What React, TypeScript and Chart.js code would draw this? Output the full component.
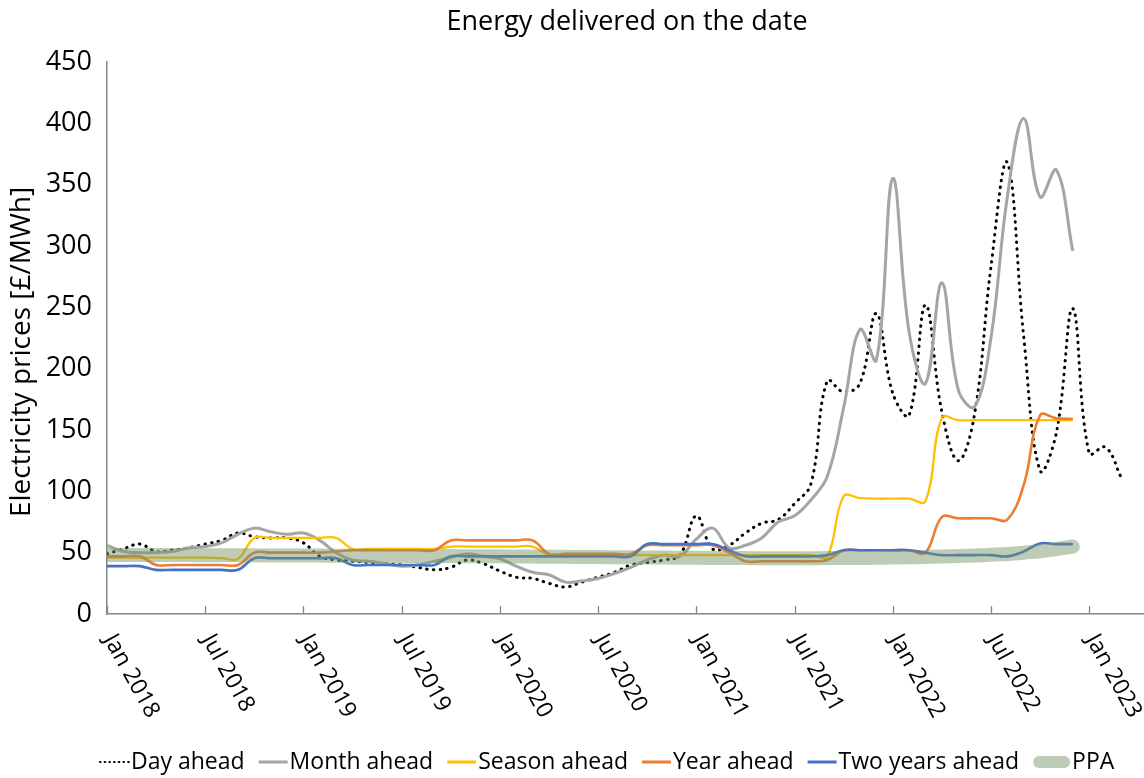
import React, { useEffect, useRef } from "react";
import { Chart, registerables } from "chart.js";

Chart.register(...registerables);

const FONT = "'Open Sans', 'DejaVu Sans', sans-serif";
const TITLE = "Energy delivered on the date";
const Y_TITLE = "Electricity prices [£/MWh]";

const SERIES_NAMES = ["Day ahead", "Month ahead", "Season ahead", "Year ahead", "Two years ahead", "PPA"];

// x positions: months since Jan 2018
const TICK_MONTHS = [0, 6, 12, 18, 24, 30, 36, 42, 48, 54, 60];
const TICK_LABELS = ["Jan 2018", "Jul 2018", "Jan 2019", "Jul 2019", "Jan 2020", "Jul 2020", "Jan 2021", "Jul 2021", "Jan 2022", "Jul 2022", "Jan 2023"];

const DAY_AHEAD = [
  49, 53, 57, 51, 52, 54, 57, 60, 66, 63, 62, 62,
  58, 47, 44, 43, 42, 41, 40, 38, 36, 38, 44, 41,
  35, 30, 29, 25, 22, 26, 30, 34, 40, 42, 44, 48,
  80, 53, 56, 66, 74, 77, 90, 106, 190, 181, 188, 245,
  180, 162, 252, 165, 125, 163, 283, 368, 226, 117, 148, 249,
  131, 136, 110,
];

const MONTH_AHEAD = [
  56, 51, 50, 50, 51, 54, 55, 58, 65, 70, 67, 65,
  66, 60, 50, 44, 43, 41, 39, 40, 43, 46, 49, 47,
  45, 39, 34, 32, 26, 27, 29, 33, 38, 44, 48, 47,
  61, 70, 54, 56, 62, 75, 80, 93, 112, 168, 232, 207,
  355, 230, 188, 270, 183, 169, 225, 340, 404, 340, 362, 296,
];

const SEASON_AHEAD = [
  46, 46, 46, 46, 46, 46, 46, 45.5, 45, 62, 62, 62,
  62, 62, 62, 53, 53, 53, 53, 53, 53, 55, 55, 55,
  55, 55, 55, 48, 48, 48, 48, 48, 48, 48, 48, 48,
  48, 48, 48, 48, 48, 48, 48, 48, 47, 96, 94.5, 94,
  94, 94, 92, 160, 158, 158, 158, 158, 158, 158, 158, 158,
];

const YEAR_AHEAD = [
  47, 47, 47, 40, 40, 40, 40, 40, 40, 50, 50, 50,
  50, 50, 51, 52, 52, 52, 52, 52, 52, 60, 60, 60,
  60, 60, 60, 49, 49, 49, 49, 49, 49, 56, 56, 56,
  56, 56, 50, 43, 43, 43, 43, 43, 44, 52, 52, 52,
  52, 52, 50, 79, 78, 78, 78, 77, 105, 162, 159.5, 159,
];

const TWO_YEARS_AHEAD = [
  39, 39, 39, 36, 36, 36, 36, 36, 36, 45.5, 45.5, 45.5,
  45.5, 45.5, 45.5, 40, 40, 40, 40, 40, 40, 47, 47, 47,
  47, 47, 47, 47, 47, 47, 47, 47, 47, 57, 57, 57,
  57, 57, 52, 47, 47, 47, 47, 47, 48, 52, 52, 52,
  52, 52, 50, 48, 48, 48, 48, 47, 51, 57.5, 57, 57,
];

const PPA = [
  48, 48, 48, 48, 48, 48, 47.9, 47.9, 47.8, 47.8, 47.7, 47.7,
  47.6, 47.6, 47.5, 47.5, 47.4, 47.4, 47.3, 47.3, 47.2, 47.2, 47.1, 47.1,
  47, 46.9, 46.8, 46.7, 46.6, 46.5, 46.4, 46.3, 46.2, 46.1, 46, 45.9,
  45.8, 45.7, 45.6, 45.6, 45.5, 45.5, 45.5, 45.5, 45.6, 45.6, 45.7, 45.8,
  46, 46.2, 46.5, 46.8, 47.2, 47.7, 48.3, 49, 50, 51.2, 53, 55,
];

const COLORS = {
  day: "#000000",
  month: "#A5A5A5",
  season: "#FFC000",
  year: "#ED7D31",
  two: "#4472C4",
  ppa: "rgba(120,148,105,0.48)",
  axis: "#868686",
};

const toPoints = (arr: number[]) => arr.map((y, i) => ({ x: i, y }));

const overlayPlugin = {
  id: "overlay",
  afterDraw(chart: any) {
    const { ctx, chartArea, scales } = chart;
    const xs = scales.x;
    const bottom = chartArea.bottom;
    ctx.save();
    // inward tick marks
    ctx.strokeStyle = COLORS.axis;
    ctx.lineWidth = 1.3;
    TICK_MONTHS.forEach((m) => {
      const px = Math.round(xs.getPixelForValue(m)) + 0.5;
      ctx.beginPath();
      ctx.moveTo(px, bottom);
      ctx.lineTo(px, bottom - 8);
      ctx.stroke();
    });
    // rotated x labels
    ctx.fillStyle = "#000";
    ctx.font = `23px ${FONT}`;
    ctx.textAlign = "left";
    ctx.textBaseline = "middle";
    TICK_MONTHS.forEach((m, i) => {
      const px = xs.getPixelForValue(m);
      ctx.save();
      ctx.translate(px + 2, bottom + 22);
      ctx.rotate((61 * Math.PI) / 180);
      ctx.fillText(TICK_LABELS[i], 0, 0);
      ctx.restore();
    });
    // title
    ctx.textAlign = "center";
    ctx.font = `27px ${FONT}`;
    ctx.fillText(TITLE, 627, 22);
    // y title
    ctx.save();
    ctx.translate(22, 352);
    ctx.rotate(-Math.PI / 2);
    ctx.font = `28px ${FONT}`;
    ctx.fillText(Y_TITLE, 0, 0);
    ctx.restore();
    // legend
    ctx.font = `23px ${FONT}`;
    ctx.textAlign = "left";
    const ly = 762;
    let x = 100;
    const markerColors = [COLORS.day, COLORS.month, COLORS.season, COLORS.year, COLORS.two, COLORS.ppa];
    SERIES_NAMES.forEach((name, i) => {
      const mw = i === 5 ? 37 : 29;
      ctx.save();
      ctx.beginPath();
      if (i === 0) {
        ctx.setLineDash([0.5, 4.2]);
        ctx.lineCap = "round";
        ctx.lineWidth = 2.2;
      } else if (i === 5) {
        ctx.lineCap = "round";
        ctx.lineWidth = 12;
      } else {
        ctx.lineWidth = 3;
      }
      ctx.strokeStyle = markerColors[i];
      const inset = i === 5 ? 6 : 0;
      ctx.moveTo(x + inset, ly);
      ctx.lineTo(x + mw - inset, ly);
      ctx.stroke();
      ctx.restore();
      x += mw + 2;
      ctx.fillStyle = "#000";
      ctx.fillText(name, x, ly);
      x += ctx.measureText(name).width + 14;
    });
    ctx.restore();
  },
};

export default function App() {
  const ref = useRef<HTMLCanvasElement | null>(null);
  useEffect(() => {
    document.body.style.margin = "0";
    const canvas = ref.current;
    if (!canvas) return;
    const chart = new Chart(canvas, {
      type: "line",
      data: {
        datasets: [
          {
            label: SERIES_NAMES[0],
            data: toPoints(DAY_AHEAD),
            borderColor: COLORS.day,
            borderWidth: 3,
            borderDash: [0.5, 6.3],
            borderCapStyle: "round",
            order: 6,
          },
          {
            label: SERIES_NAMES[1],
            data: toPoints(MONTH_AHEAD),
            borderColor: COLORS.month,
            borderWidth: 3,
            order: 5,
          },
          {
            label: SERIES_NAMES[2],
            data: toPoints(SEASON_AHEAD),
            borderColor: COLORS.season,
            borderWidth: 2.3,
            order: 4,
          },
          {
            label: SERIES_NAMES[3],
            data: toPoints(YEAR_AHEAD),
            borderColor: COLORS.year,
            borderWidth: 2.6,
            order: 3,
          },
          {
            label: SERIES_NAMES[4],
            data: toPoints(TWO_YEARS_AHEAD),
            borderColor: COLORS.two,
            borderWidth: 2.6,
            order: 2,
          },
          {
            label: SERIES_NAMES[5],
            data: toPoints(PPA),
            borderColor: COLORS.ppa,
            borderWidth: 14,
            borderCapStyle: "round",
            order: 1,
          },
        ],
      },
      options: {
        responsive: false,
        devicePixelRatio: 1,
        animation: false,
        layout: { padding: { top: 62, left: 0, right: 0, bottom: 0 } },
        elements: {
          point: { radius: 0, hoverRadius: 0 },
          line: { tension: 0.4, fill: false },
        },
        plugins: {
          legend: { display: false },
          title: { display: false },
          tooltip: { enabled: false },
        },
        scales: {
          x: {
            type: "linear",
            min: 0,
            max: 63.35,
            grid: { display: false, drawTicks: false },
            border: { display: true, color: COLORS.axis, width: 1.5 },
            ticks: { display: false },
            afterFit: (s: any) => {
              s.height = 164;
            },
          },
          y: {
            type: "linear",
            min: 0,
            max: 450,
            grid: { display: false, drawTicks: false },
            border: { display: true, color: COLORS.axis, width: 1.5 },
            ticks: {
              stepSize: 50,
              padding: 15,
              color: "#000",
              font: { family: FONT, size: 27 },
            },
            afterFit: (s: any) => {
              s.width = 107;
            },
          },
        },
      },
      plugins: [overlayPlugin],
    } as any);
    return () => chart.destroy();
  }, []);
  return (
    <div style={{ width: 1144, height: 778 }}>
      <canvas ref={ref} width={1144} height={778} style={{ display: "block" }} />
    </div>
  );
}
